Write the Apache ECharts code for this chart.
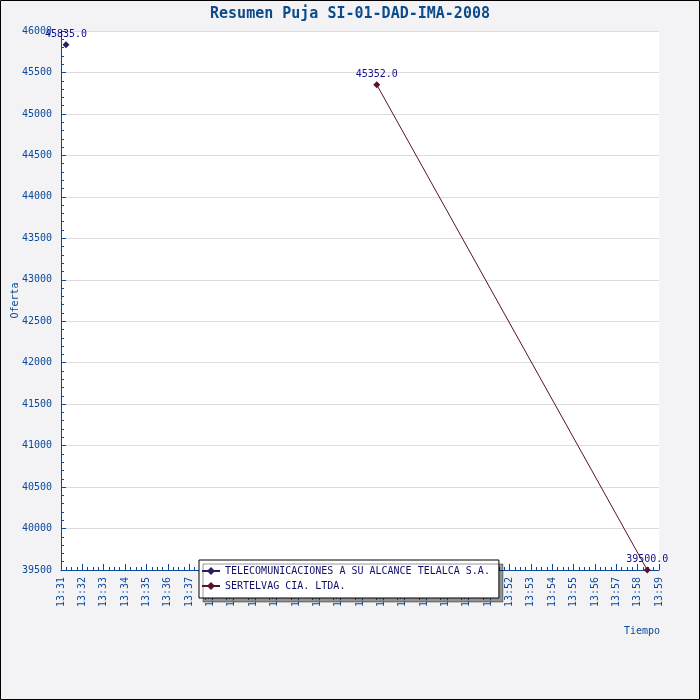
<!DOCTYPE html>
<html>
<head>
<meta charset="utf-8">
<script src="https://cdn.jsdelivr.net/npm/echarts@6/dist/echarts.min.js"></script>
<style>
  html, body { margin: 0; padding: 0; background: #f3f3f6; }
  #main { width: 700px; height: 700px; }
</style>
</head>
<body>
<div id="main"></div>
<script>
// datos de la puja
var seriesNames = ['TELECOMUNICACIONES A SU ALCANCE TELALCA S.A.', 'SERTELVAG CIA. LTDA.'];
var telalcaTimes = ['13:31:14'];
var telalcaValues = [45835.0];
var sertelvagTimes = ['13:45:47', '13:58:27'];
var sertelvagValues = [45352.0, 39500.0];
var yTicks = [39500, 46000, 500];   // min, max, intervalo
var xTicks = ['13:31', '13:59'];    // primer y ultimo minuto

function toMinutes(s) {
    var p = s.split(':');
    return (+p[0]) * 60 + (+p[1]) + (p[2] ? (+p[2]) / 60 : 0);
}
function pad(n) { return n < 10 ? '0' + n : '' + n; }
function pairs(times, values) {
    return times.map(function (t, i) { return [toMinutes(t), values[i]]; });
}

var font = 'DejaVu Sans Mono';
var blue = '#0b4a9a';

var myChart = echarts.init(document.getElementById('main'));

var option = {
    backgroundColor: '#f3f3f6',
    animation: false,
    title: {
        text: 'Resumen Puja SI-01-DAD-IMA-2008',
        left: 'center',
        top: 2,
        textStyle: { fontFamily: font, fontSize: 15, fontWeight: 'bold', color: '#0b4a8b' }
    },
    grid: {
        left: 61, right: 41, top: 31, bottom: 130,
        outerBoundsMode: 'none',
        containLabel: false,
        show: true, backgroundColor: '#fff', borderWidth: 0
    },
    legend: {
        orient: 'vertical',
        left: 199, top: 560,
        width: 301,
        padding: [6, 9, 7, 2],
        itemGap: 5,
        itemWidth: 18,
        itemHeight: 10,
        backgroundColor: '#fff',
        borderColor: '#000',
        borderWidth: 1,
        borderRadius: 0,
        shadowColor: 'rgba(0,0,0,0.4)',
        shadowOffsetX: 4,
        shadowOffsetY: 4,
        textStyle: { fontFamily: font, fontSize: 10, color: '#10106a' },
        data: seriesNames
    },
    xAxis: {
        type: 'value',
        min: toMinutes(xTicks[0]),
        max: toMinutes(xTicks[1]),
        interval: 1,
        axisLine: { onZero: false, lineStyle: { color: blue, width: 1 } },
        axisTick: { inside: true, length: 6, lineStyle: { color: blue } },
        minorTick: { show: true, splitNumber: 4, length: 3, lineStyle: { color: blue } },
        splitLine: { show: false },
        axisLabel: {
            rotate: 90,
            margin: 7,
            color: blue,
            fontFamily: font,
            fontSize: 10,
            formatter: function (v) {
                return Math.floor(v / 60) + ':' + pad(Math.round(v % 60));
            }
        }
    },
    yAxis: {
        type: 'value',
        min: yTicks[0],
        max: yTicks[1],
        interval: yTicks[2],
        name: 'Oferta',
        nameLocation: 'middle',
        nameGap: 41,
        nameMoveOverlap: false,
        nameRotate: 90,
        nameTextStyle: { fontFamily: font, fontSize: 10, color: blue },
        axisLine: { show: true, lineStyle: { color: blue, width: 1 } },
        axisTick: { inside: true, length: 5, lineStyle: { color: blue } },
        minorTick: { show: true, splitNumber: 5, length: 3, lineStyle: { color: blue } },
        splitLine: { lineStyle: { color: '#dcdcdc' } },
        axisLabel: {
            color: blue, fontFamily: font, fontSize: 10, margin: 9,
            formatter: function (v) { return String(v); }
        }
    },
    graphic: [
        {
            type: 'text', left: 624, top: 626,
            style: { text: 'Tiempo', fill: blue, font: '10px ' + font }
        },
        {
            type: 'rect', silent: true, z: 100,
            shape: { x: 0.5, y: 0.5, width: 699, height: 699 },
            style: { fill: 'none', stroke: '#000', lineWidth: 1 }
        }
    ],
    series: [
        {
            name: seriesNames[0],
            type: 'line',
            data: pairs(telalcaTimes, telalcaValues),
            symbol: 'diamond',
            symbolSize: 7,
            lineStyle: { width: 1, color: '#2a2060' },
            itemStyle: { color: '#2a2060' },
            label: {
                show: true, position: 'top', distance: 2,
                color: '#10108a', fontFamily: font, fontSize: 10,
                formatter: function (p) { return p.value[1].toFixed(1); }
            }
        },
        {
            name: seriesNames[1],
            type: 'line',
            data: pairs(sertelvagTimes, sertelvagValues),
            symbol: 'diamond',
            symbolSize: 7,
            lineStyle: { width: 1, color: '#5a1030' },
            itemStyle: { color: '#5a1030' },
            label: {
                show: true, position: 'top', distance: 2,
                color: '#10108a', fontFamily: font, fontSize: 10,
                formatter: function (p) { return p.value[1].toFixed(1); }
            }
        }
    ]
};

myChart.setOption(option);
</script>
</body>
</html>
